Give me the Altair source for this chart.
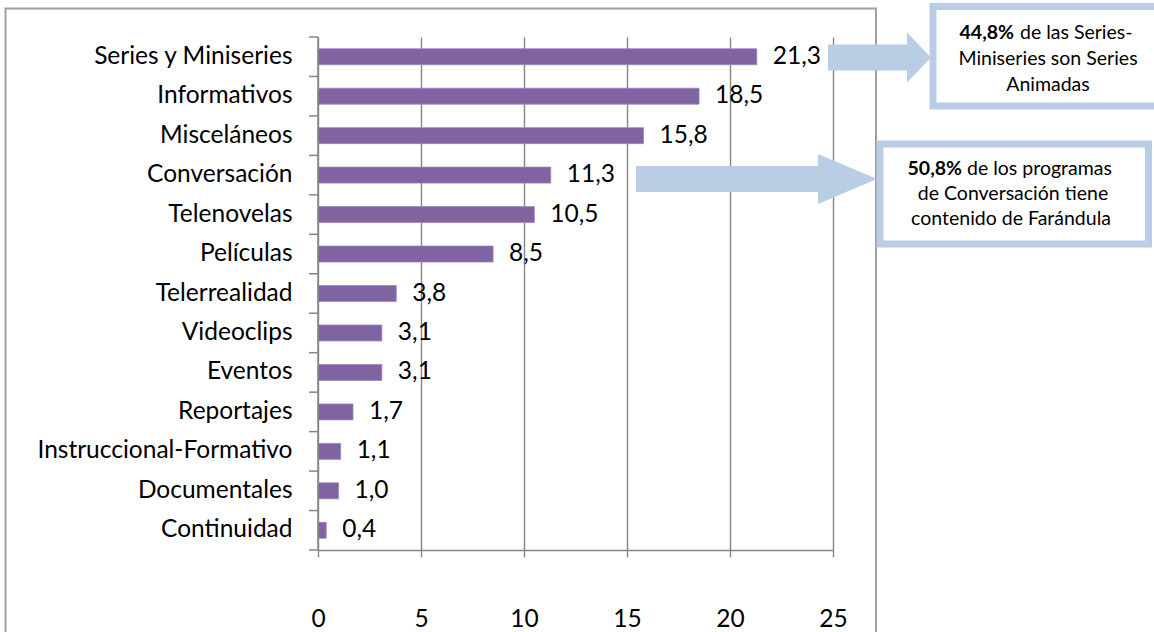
import altair as alt
import pandas as pd

# ---- data ----
categories = ["Series y Miniseries", "Informativos", "Misceláneos", "Conversación",
              "Telenovelas", "Películas", "Telerrealidad", "Videoclips", "Eventos",
              "Reportajes", "Instruccional-Formativo", "Documentales", "Continuidad"]
values = [21.3, 18.5, 15.8, 11.3, 10.5, 8.5, 3.8, 3.1, 3.1, 1.7, 1.1, 1.0, 0.4]
x_ticks = [0, 5, 10, 15, 20, 25]

note1_bold = "44,8%"
note1_rest = "de las Series-"
note1_lines = ["Miniseries son Series", "Animadas"]
note2_bold = "50,8%"
note2_rest = "de los programas"
note2_lines = ["de Conversación tiene", "contenido de Farándula"]

# ---- style / layout ----
FONT = "Lato"
GRAY = "#868686"
BAR = "#8064A2"
ARROW = "#B9CDE5"
OX, OY = 318, 37          # plot origin in the page
W, H = 515, 513           # plot area
LFS = 24.5


def px(x):
    return x - OX


def py(y):
    return y - OY


df = pd.DataFrame({
    "cat": categories,
    "val": values,
    "label": [f"{v:.1f}".replace(".", ",") for v in values],
})
one = pd.DataFrame({"k": [0]})

xenc = alt.X("val:Q", scale=alt.Scale(domain=[0, 25], nice=False),
             axis=alt.Axis(values=x_ticks, title=None, grid=True, gridColor=GRAY,
                           gridWidth=1.4, tickSize=7, tickColor=GRAY, tickWidth=1.4,
                           domainColor=GRAY, domainWidth=1.4, labelPadding=50,
                           labelFlush=False, labelFont=FONT, labelFontSize=LFS,
                           labelColor="black"))
yenc = alt.Y("cat:N", sort=categories,
             scale=alt.Scale(paddingInner=0, paddingOuter=0),
             axis=alt.Axis(title=None, ticks=False, domain=False,
                           labelPadding=26, labelFont=FONT, labelFontSize=LFS,
                           labelColor="black", labelLimit=500, grid=False))

border = alt.Chart(one).mark_rect(fill="transparent", stroke="#A0A0A0", strokeWidth=2).encode(
    x=alt.value(px(5.5)), x2=alt.value(px(876)), y=alt.value(py(8.5)), y2=alt.value(py(660)))

bars = alt.Chart(df).mark_bar(height=16, color=BAR, stroke="#9d88bd", strokeWidth=0.8).encode(
    x=xenc, y=yenc)

# y-axis line and ticks at the category boundaries
yaxis_line = alt.Chart(one).mark_rule(color=GRAY, strokeWidth=1.5).encode(
    x=alt.value(0), y=alt.value(0), y2=alt.value(H))
yticks = alt.Chart(df).mark_tick(orient="horizontal", color=GRAY, thickness=1.5,
                                 size=9, opacity=1, yOffset=-H / len(categories) / 2).encode(
    y=alt.Y("cat:N", sort=categories), x=alt.value(-4.5))
ytick_end = alt.Chart(df).transform_filter(
    alt.datum.cat == categories[-1]).mark_tick(
    orient="horizontal", color=GRAY, thickness=1.5, size=9, opacity=1,
    yOffset=H / len(categories) / 2).encode(
    y=alt.Y("cat:N", sort=categories), x=alt.value(-4.5))

labels = alt.Chart(df).mark_text(align="left", baseline="middle", dx=16, font=FONT,
                                 fontSize=LFS, color="black").encode(
    x="val:Q", y=alt.Y("cat:N", sort=categories), text="label:N")

# arrows (custom symbol path in pixel units; size 4 -> scale 1)
arrow1_path = "M-51.5,-13 L27.5,-13 L27.5,-25 L51.5,0 L27.5,25 L27.5,13 L-51.5,13 Z"
arrow2_path = "M-120.5,-13 L61.5,-13 L61.5,-25 L120.5,0 L61.5,25 L61.5,13 L-120.5,13 Z"
arrow1 = alt.Chart(one).mark_point(shape=arrow1_path, size=4, filled=True, fill=ARROW,
                                   opacity=1, strokeWidth=0).encode(
    x=alt.value(px(879.5)), y=alt.value(py(57.5)))
arrow2 = alt.Chart(one).mark_point(shape=arrow2_path, size=4, filled=True, fill=ARROW,
                                   opacity=1, strokeWidth=0).encode(
    x=alt.value(px(756.5)), y=alt.value(py(179)))

box1 = alt.Chart(one).mark_rect(fill="white", stroke=ARROW, strokeWidth=7).encode(
    x=alt.value(px(933)), x2=alt.value(px(1163)), y=alt.value(py(6.5)), y2=alt.value(py(106)))
box2 = alt.Chart(one).mark_rect(fill="white", stroke=ARROW, strokeWidth=7).encode(
    x=alt.value(px(880)), x2=alt.value(px(1148.5)), y=alt.value(py(144)), y2=alt.value(py(244)))

NFS = 19.5


def txt(s, x, y, align="center", bold=False):
    return alt.Chart(one).mark_text(text=s, align=align, baseline="middle", font=FONT,
                                    fontSize=NFS, color="black",
                                    fontWeight="bold" if bold else "normal").encode(
        x=alt.value(px(x)), y=alt.value(py(y)))


notes = [
    txt(note1_bold, 1014, 33, "right", True),
    txt(note1_rest, 1020, 33, "left"),
    txt(note1_lines[0], 1048, 59),
    txt(note1_lines[1], 1048, 84.5),
    txt(note2_bold, 962, 169, "right", True),
    txt(note2_rest, 967, 169, "left"),
    txt(note2_lines[0], 1013, 194),
    txt(note2_lines[1], 1011, 219),
]

chart = alt.layer(border, bars, yaxis_line, yticks, ytick_end, labels, arrow1, arrow2,
                  box1, box2, *notes).properties(
    width=W, height=H,
    padding={"left": OX, "top": OY, "right": 1154 - OX - W, "bottom": 632 - OY - H},
    autosize=alt.AutoSizeParams(type="none"),
    background="white",
).configure_view(strokeWidth=0)

chart.save("out.html", embed_options={"renderer": "svg", "actions": False})
